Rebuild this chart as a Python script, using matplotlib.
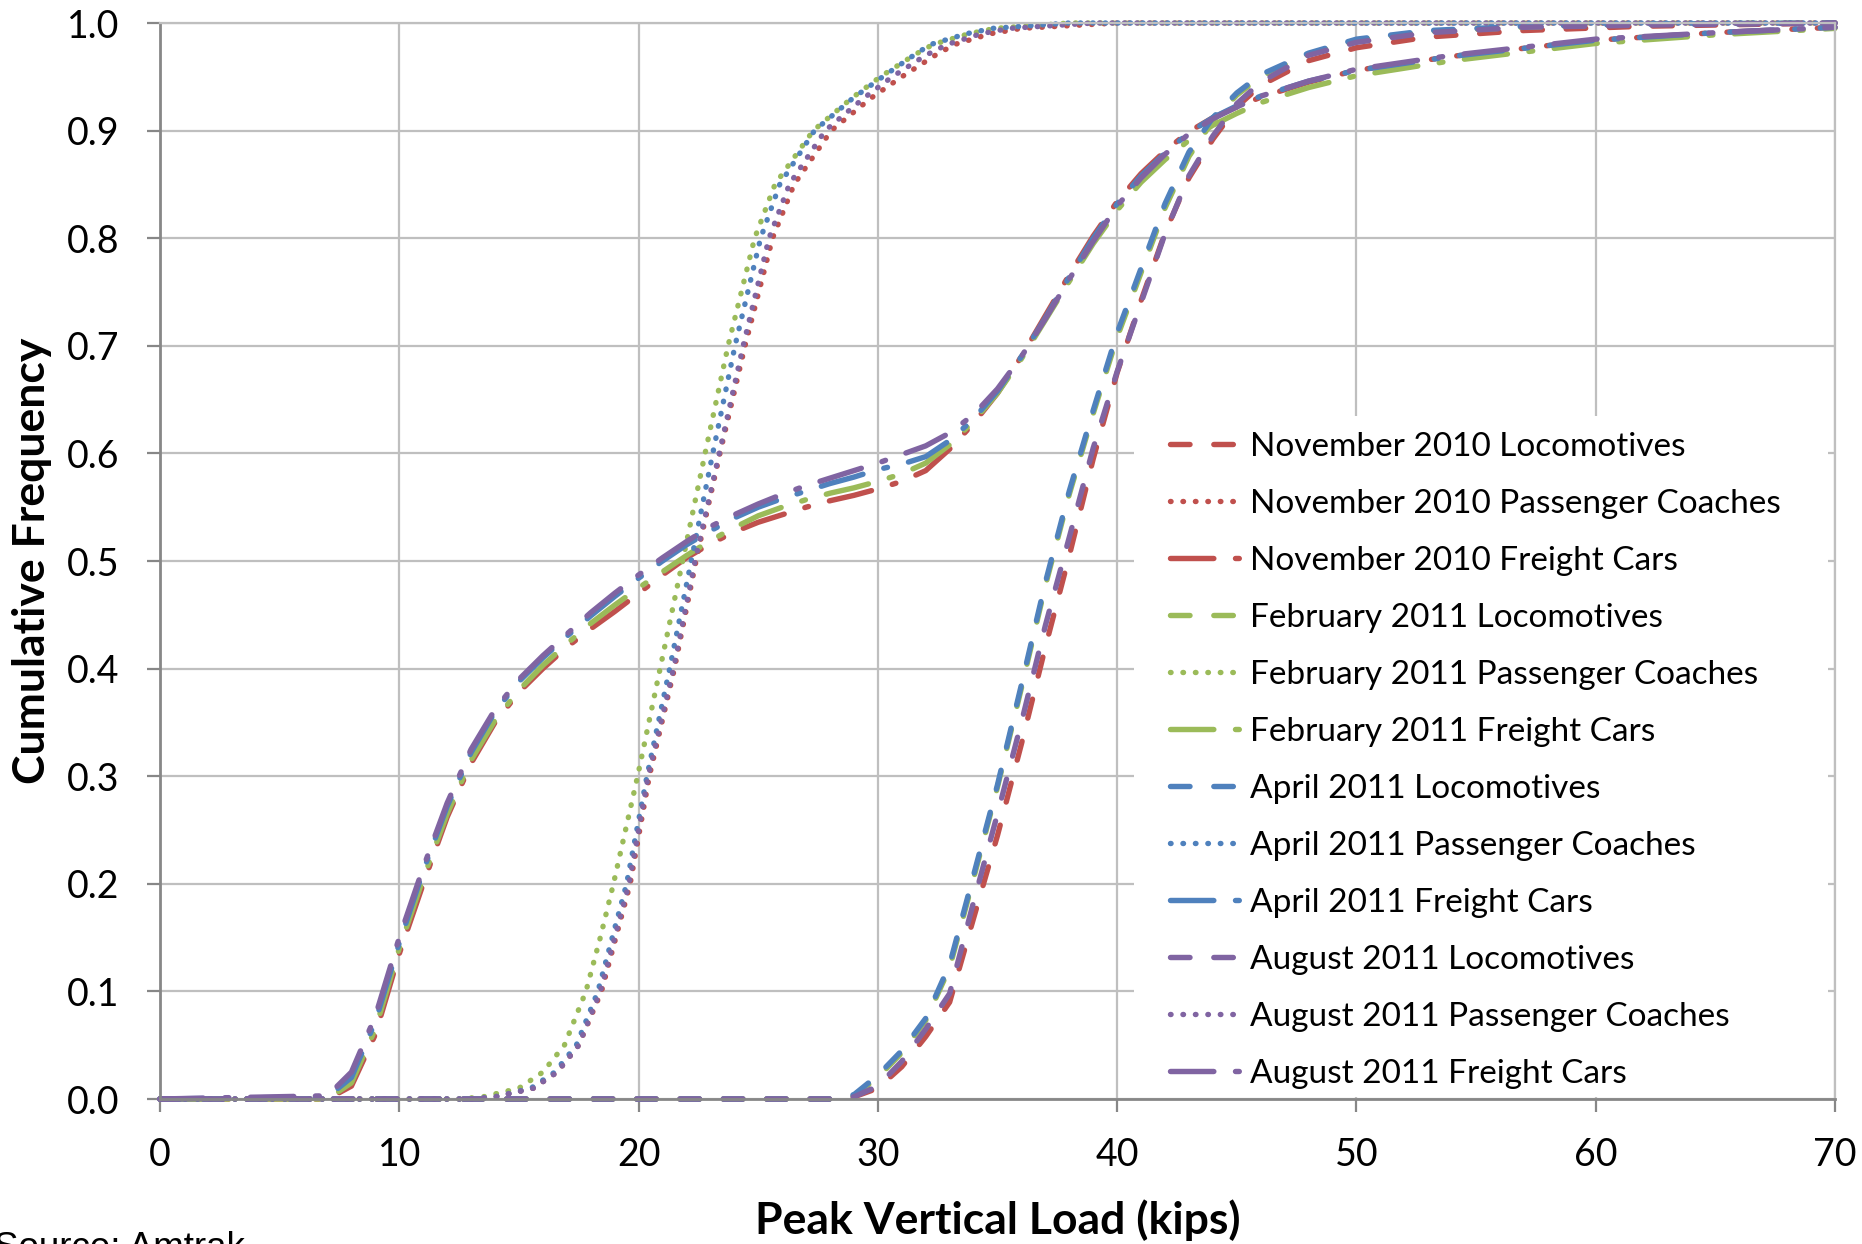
import matplotlib
matplotlib.use('Agg')
import matplotlib.pyplot as plt
from matplotlib.patches import Rectangle

plt.rcParams['font.family'] = ['Lato', 'DejaVu Sans']

months = ['November 2010', 'February 2011', 'April 2011', 'August 2011']
colors = ['#C0504D', '#9BBB59', '#4F81BD', '#8064A2']

# Locomotives: cumulative frequency read at these loads (kips)
loco_x = [0, 28, 29, 30, 31, 32, 33, 34, 35, 36, 37, 38, 39, 40, 41, 42, 43, 44, 45, 46, 48, 50, 53, 57, 62, 70]
loco_nov = [0, 0, 0.002, 0.01, 0.03, 0.058, 0.09, 0.168, 0.245, 0.33, 0.42, 0.505, 0.595, 0.675, 0.742, 0.805, 0.856, 0.892, 0.922, 0.942, 0.965, 0.977, 0.987, 0.993, 0.997, 1.0]
loco_feb = [0, 0, 0.003, 0.02, 0.043, 0.073, 0.122, 0.205, 0.29, 0.382, 0.477, 0.562, 0.637, 0.708, 0.768, 0.828, 0.876, 0.909, 0.933, 0.95, 0.971, 0.984, 0.992, 0.996, 0.999, 1.0]
loco_apr = [0, 0, 0.004, 0.022, 0.045, 0.075, 0.125, 0.208, 0.292, 0.385, 0.48, 0.565, 0.64, 0.712, 0.772, 0.832, 0.88, 0.912, 0.935, 0.952, 0.972, 0.985, 0.993, 0.997, 0.999, 1.0]
loco_aug = [0, 0, 0.002, 0.012, 0.035, 0.065, 0.098, 0.183, 0.265, 0.35, 0.44, 0.522, 0.605, 0.676, 0.74, 0.804, 0.858, 0.895, 0.925, 0.945, 0.97, 0.982, 0.991, 0.996, 0.998, 1.0]

# Passenger coaches: load (kips) read at these cumulative levels
coach_levels = [0, 0, 0.002, 0.01, 0.025, 0.05, 0.1, 0.15, 0.2, 0.3, 0.4, 0.5, 0.6, 0.7, 0.8, 0.85, 0.9, 0.93, 0.95, 0.97, 0.98, 0.99, 0.995, 1.0, 1.0]
coach_nov = [0, 13.0, 14.0, 15.6, 16.6, 17.5, 18.45, 19.05, 19.65, 20.45, 21.5, 22.4, 23.4, 24.45, 25.6, 26.5, 28.05, 29.7, 31.0, 32.4, 33.2, 34.7, 36.0, 40.0, 70]
coach_feb = [0, 12.5, 13.5, 15.0, 16.0, 16.9, 17.8, 18.4, 18.95, 19.96, 20.9, 21.84, 22.78, 23.74, 24.85, 25.7, 27.3, 28.9, 30.1, 31.5, 32.3, 33.8, 34.9, 38.0, 70]
coach_apr = [0, 13.0, 14.0, 15.5, 16.5, 17.4, 18.3, 18.9, 19.5, 20.35, 21.3, 22.2, 23.1, 24.03, 25.1, 25.9, 27.35, 28.95, 30.2, 31.5, 32.2, 33.7, 34.8, 38.0, 70]
coach_aug = [0, 13.0, 14.0, 15.6, 16.6, 17.5, 18.4, 19.0, 19.6, 20.4, 21.46, 22.36, 23.37, 24.37, 25.45, 26.3, 27.8, 29.4, 30.6, 32.0, 32.9, 34.3, 35.5, 39.0, 70]

# Freight cars: cumulative frequency read at these loads (kips)
freight_x = [0, 7, 8, 9, 10, 11, 12, 13, 14, 15, 16, 17, 18, 19, 20, 21, 22, 23, 24, 25, 26, 27, 28, 29, 30,
             31, 32, 33, 34, 35, 36, 37, 38, 39, 40, 41, 42, 43, 44, 45, 46, 48, 50, 54, 60, 65, 70]
freight_nov = [0, 0, 0.012, 0.06, 0.135, 0.2, 0.262, 0.312, 0.35, 0.378, 0.4, 0.42, 0.437, 0.453, 0.47, 0.487, 0.503, 0.516, 0.527, 0.536, 0.543, 0.55, 0.556, 0.561, 0.567,
               0.574, 0.584, 0.604, 0.628, 0.656, 0.69, 0.728, 0.766, 0.802, 0.834, 0.86, 0.881, 0.899, 0.912, 0.922, 0.931, 0.945, 0.956, 0.969, 0.984, 0.991, 0.996]
freight_feb = [0, 0, 0.015, 0.065, 0.14, 0.205, 0.265, 0.315, 0.352, 0.38, 0.403, 0.423, 0.442, 0.459, 0.475, 0.49, 0.505, 0.519, 0.531, 0.542, 0.55, 0.557, 0.563, 0.568, 0.574,
               0.581, 0.591, 0.608, 0.63, 0.656, 0.688, 0.724, 0.76, 0.795, 0.826, 0.852, 0.873, 0.891, 0.905, 0.916, 0.926, 0.94, 0.951, 0.965, 0.981, 0.989, 0.995]
freight_apr = [0, 0.002, 0.02, 0.072, 0.145, 0.212, 0.272, 0.322, 0.36, 0.388, 0.41, 0.43, 0.449, 0.467, 0.484, 0.5, 0.515, 0.528, 0.54, 0.55, 0.558, 0.565, 0.572, 0.578, 0.585,
               0.59, 0.597, 0.612, 0.632, 0.658, 0.69, 0.726, 0.764, 0.8, 0.832, 0.858, 0.879, 0.898, 0.912, 0.923, 0.932, 0.946, 0.956, 0.969, 0.984, 0.991, 0.996]
freight_aug = [0, 0.003, 0.025, 0.077, 0.15, 0.215, 0.275, 0.325, 0.362, 0.39, 0.412, 0.432, 0.452, 0.47, 0.487, 0.503, 0.518, 0.532, 0.543, 0.553, 0.562, 0.57, 0.577, 0.584, 0.591,
               0.599, 0.607, 0.619, 0.636, 0.66, 0.69, 0.725, 0.762, 0.797, 0.83, 0.856, 0.878, 0.897, 0.911, 0.922, 0.932, 0.946, 0.957, 0.97, 0.985, 0.991, 0.996]

loco = [loco_nov, loco_feb, loco_apr, loco_aug]
coach = [coach_nov, coach_feb, coach_apr, coach_aug]
freight = [freight_nov, freight_feb, freight_apr, freight_aug]

LW = 3.9
grid_col = '#BFBFBF'
axis_col = '#878787'

fig = plt.figure(figsize=(18.62, 12.44), dpi=100)
ax = fig.add_axes([160 / 1862, 145 / 1244, 1675 / 1862, 1076 / 1244])

for i, m in enumerate(months):
    ax.plot(loco_x, loco[i], color=colors[i], lw=LW, dashes=(3.6, 4.4), dash_capstyle='round',
            clip_on=False, label=m + ' Locomotives')
    ax.plot(coach[i], coach_levels, color=colors[i], lw=LW, dashes=(0.1, 2.2), dash_capstyle='round',
            clip_on=False, label=m + ' Passenger Coaches')
    ax.plot(freight_x, freight[i], color=colors[i], lw=LW, dashes=(8, 4, 0.7, 4), dash_capstyle='round',
            clip_on=False, label=m + ' Freight Cars')

ax.set_xlim(0, 70)
ax.set_ylim(0, 1.0)
ax.set_xticks(range(0, 71, 10))
ax.set_yticks([i / 10 for i in range(11)])
ax.yaxis.set_major_formatter(matplotlib.ticker.FormatStrFormatter('%.1f'))
ax.set_axisbelow(True)
ax.grid(True, color=grid_col, lw=1.6)
for s in ['top', 'right']:
    ax.spines[s].set_color(grid_col)
    ax.spines[s].set_linewidth(1.6)
for s in ['left', 'bottom']:
    ax.spines[s].set_color(axis_col)
    ax.spines[s].set_linewidth(2)
ax.tick_params(axis='both', direction='out', length=9.5, width=1.6, color=axis_col,
               labelsize=27, pad=18)
ax.tick_params(axis='y', pad=20)

ax.set_xlabel('Peak Vertical Load (kips)', fontsize=32, fontweight='bold')
ax.set_ylabel('Cumulative Frequency', fontsize=32, fontweight='bold')
ax.xaxis.set_label_coords(0.5, -0.093)
ax.yaxis.set_label_coords(-0.0645, 0.5)

# white area behind the legend, hiding the gridlines
ax.add_patch(Rectangle((0.5815, 0.002), 0.4145, 0.633, transform=ax.transAxes,
                       facecolor='white', edgecolor='none', zorder=1))
ax.legend(loc='upper left', bbox_to_anchor=(0.603, 0.62), frameon=False,
          fontsize=24, handlelength=2.2, handletextpad=0.2, labelspacing=0.81,
          borderpad=0, borderaxespad=0)

fig.text(-0.003, -0.011, 'Source: Amtrak', fontsize=26.5, family='Liberation Sans', va='baseline')

fig.savefig('out.png', dpi=100)
